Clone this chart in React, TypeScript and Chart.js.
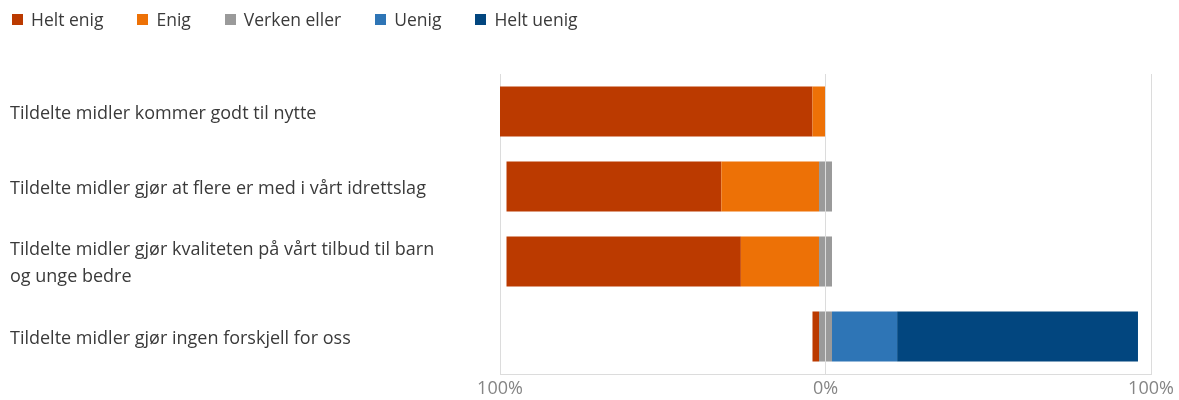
import React, { useEffect, useRef } from "react";
import { Chart, registerables } from "chart.js";

Chart.register(...registerables);

// ---- data ----
const categories: (string | string[])[] = [
  "Tildelte midler kommer godt til nytte",
  "Tildelte midler gjør at flere er med i vårt idrettslag",
  ["Tildelte midler gjør kvaliteten på vårt tilbud til barn", "og unge bedre"],
  "Tildelte midler gjør ingen forskjell for oss",
];
const heltEnig = [96, 66, 72, 2];
const enig = [4, 30, 24, 0];
const verkenEller = [0, 4, 4, 4];
const uenig = [0, 0, 0, 20];
const heltUenig = [0, 0, 0, 74];
const seriesNames = ["Helt enig", "Enig", "Verken eller", "Uenig", "Helt uenig"];
const seriesColors = ["#bb3a00", "#ed7106", "#9a9a9a", "#2e75b6", "#02467f"];
const xTickValues = [-100, 0, 100];

const FONT = "'Open Sans', 'Noto Sans', sans-serif";

export default function App() {
  const canvasRef = useRef<HTMLCanvasElement | null>(null);

  useEffect(() => {
    document.body.style.margin = "0";
    const canvas = canvasRef.current;
    if (!canvas) return;
    Chart.defaults.font.family = FONT;

    const common = {
      stack: "s",
      barPercentage: 0.667,
      categoryPercentage: 1,
      borderWidth: 0,
    };

    const chart = new Chart(canvas, {
      type: "bar",
      data: {
        labels: categories,
        datasets: [
          // left side, stacked outward from 0
          { ...common, label: seriesNames[2], data: verkenEller.map((v) => -v / 2), backgroundColor: seriesColors[2] },
          { ...common, label: seriesNames[1], data: enig.map((v) => -v), backgroundColor: seriesColors[1] },
          { ...common, label: seriesNames[0], data: heltEnig.map((v) => -v), backgroundColor: seriesColors[0] },
          // right side
          { ...common, label: seriesNames[2] + " ", data: verkenEller.map((v) => v / 2), backgroundColor: seriesColors[2] },
          { ...common, label: seriesNames[3], data: uenig, backgroundColor: seriesColors[3] },
          { ...common, label: seriesNames[4], data: heltUenig, backgroundColor: seriesColors[4] },
        ],
      },
      options: {
        indexAxis: "y",
        responsive: false,
        animation: false,
        layout: { padding: { left: 10, right: 28, top: 74, bottom: 0 } },
        plugins: {
          legend: { display: false },
          tooltip: { enabled: false },
        },
        scales: {
          x: {
            stacked: true,
            min: -100,
            max: 100,
            afterBuildTicks: (scale: any) => {
              scale.ticks = xTickValues.map((v) => ({ value: v }));
            },
            afterFit: (scale: any) => {
              scale.height = 26;
            },
            grid: { color: "#dcdcdc", lineWidth: 1, drawTicks: false },
            border: { display: true, color: "#dcdcdc" },
            ticks: {
              padding: 4,
              color: "#858585",
              font: { size: 18, family: FONT },
              callback: (v: any) => Math.abs(Number(v)) + "%",
            },
          },
          y: {
            stacked: true,
            afterFit: (scale: any) => {
              scale.width = 490;
            },
            grid: { display: false },
            border: { display: false },
            ticks: {
              crossAlign: "far",
              autoSkip: false,
              labelOffset: 2,
              color: "#3a3a3a",
              font: { size: 18, family: FONT, lineHeight: 1.5 },
            },
          },
        },
      },
    } as any);

    return () => chart.destroy();
  }, []);

  return (
    <div style={{ position: "relative", width: 1179, height: 400, overflow: "hidden" }}>
      <canvas ref={canvasRef} width={1179} height={400} style={{ display: "block", width: 1179, height: 400 }} />
      <div
        style={{
          position: "absolute",
          left: 12,
          top: 8,
          height: 23,
          display: "flex",
          alignItems: "center",
          fontFamily: FONT,
          fontSize: 17.5,
          color: "#3a3a3a",
        }}
      >
        {seriesNames.map((name, i) => (
          <div key={name} style={{ display: "flex", alignItems: "center", marginRight: 34 }}>
            <span
              style={{
                display: "inline-block",
                width: 11,
                height: 11,
                background: seriesColors[i],
                marginRight: 8,
              }}
            />
            <span style={{ lineHeight: "23px", whiteSpace: "nowrap" }}>{name}</span>
          </div>
        ))}
      </div>
    </div>
  );
}
